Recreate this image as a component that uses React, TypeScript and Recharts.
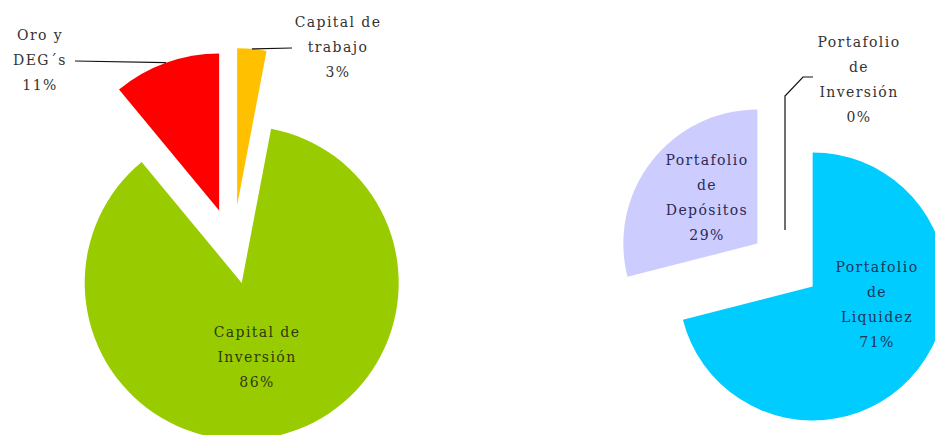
import { Cell, Pie, PieChart } from "recharts";

// Composición de las reservas (gráfico izquierdo)
const reservaNames = ["Capital de trabajo", "Capital de Inversión", "Oro y DEG´s"];
const reservaValues = [3, 86, 11];
const reservaLines = [["Capital de", "trabajo"], ["Capital de", "Inversión"], ["Oro y", "DEG´s"]];

// Capital de trabajo por portafolio (gráfico derecho)
const portafolioNames = ["Portafolio de Liquidez", "Portafolio de Depósitos", "Portafolio de Inversión"];
const portafolioValues = [71, 29, 0];
const portafolioLines = [["Portafolio", "de", "Liquidez"], ["Portafolio", "de", "Depósitos"], ["Portafolio", "de", "Inversión"]];

type Pt = [number, number];
type LabelCfg = { x: number; y: number; color: string; leader?: Pt[]; fromCenter?: boolean };
type PieLayout = {
  cx: number;
  cy: number;
  r: number;
  explode: number[];
  colors: string[];
  labels: LabelCfg[];
};

const LEFT: PieLayout = {
  cx: 233,
  cy: 249,
  r: 157,
  explode: [44, 35, 41],
  colors: ["#FFC000", "#99CC00", "#FF0000"],
  labels: [
    { x: 338, y: 22, color: "#333333", leader: [[292, 48]] },
    { x: 257, y: 332, color: "#2E3A0E" },
    { x: 40, y: 35, color: "#333333", leader: [[75, 61]] },
  ],
};

const RIGHT: PieLayout = {
  cx: 785,
  cy: 265,
  r: 134,
  explode: [35, 35, 35],
  colors: ["#00CCFF", "#CCCCFF", "#FFFFFF"],
  labels: [
    { x: 877, y: 267, color: "#1E3558" },
    { x: 707, y: 160, color: "#2A2A55" },
    { x: 859, y: 42, color: "#333333", leader: [[803, 77], [813, 77]], fromCenter: true },
  ],
};

const RADIAN = Math.PI / 180;
const FONT = "'DejaVu Serif', serif";
const LINE_H = 25;

function polar(cx: number, cy: number, r: number, angle: number): Pt {
  return [cx + r * Math.cos(-angle * RADIAN), cy + r * Math.sin(-angle * RADIAN)];
}

function renderLabel(p: any, cfg: LabelCfg, lines: string[], value: number) {
  const outer = polar(p.cx, p.cy, p.outerRadius, p.midAngle);
  let path = "";
  if (cfg.leader) {
    const pts: Pt[] = cfg.fromCenter ? [[p.cx, p.cy], outer, ...cfg.leader] : [outer, ...cfg.leader];
    path = pts.map((pt, k) => `${k === 0 ? "M" : "L"}${pt[0]},${pt[1]}`).join(" ");
  }
  const all = [...lines, `${value}%`];
  return (
    <g>
      {path && <path d={path} fill="none" stroke="#111111" strokeWidth={1.2} />}
      <text
        x={cfg.x}
        y={cfg.y + 5}
        textAnchor="middle"
        fill={cfg.color}
        fontFamily={FONT}
        fontSize={14}
        letterSpacing={1.4}
      >
        {all.map((t, k) => (
          <tspan key={k} x={cfg.x} dy={k === 0 ? 0 : LINE_H}>
            {t}
          </tspan>
        ))}
      </text>
    </g>
  );
}

function explodedPie(key: string, names: string[], values: number[], lines: string[][], layout: PieLayout) {
  const data = names.map((name, i) => ({ name, value: values[i] }));
  const total = values.reduce((a, b) => a + b, 0);
  let acc = 0;
  return data.map((d, i) => {
    const mid = 90 - ((acc + d.value / 2) / total) * 360;
    acc += d.value;
    const [cx, cy] = polar(layout.cx, layout.cy, layout.explode[i], mid);
    return (
      <Pie
        key={`${key}-${i}`}
        data={data}
        dataKey="value"
        nameKey="name"
        cx={cx}
        cy={cy}
        outerRadius={layout.r}
        startAngle={90}
        endAngle={-270}
        stroke="none"
        isAnimationActive={false}
        labelLine={false}
        label={(p: any) => (p.index === i ? renderLabel(p, layout.labels[i], lines[i], values[i]) : null)}
      >
        {data.map((_, j) => (
          <Cell key={j} fill={j === i ? layout.colors[i] : "none"} stroke="none" />
        ))}
      </Pie>
    );
  });
}

export default function App() {
  return (
    <div style={{ width: 935, height: 435, background: "#ffffff", overflow: "hidden" }}>
      <style>{"body{margin:0;background:#fff}"}</style>
      <PieChart width={935} height={435} margin={{ top: 0, right: 0, bottom: 0, left: 0 }}>
        {explodedPie("reserva", reservaNames, reservaValues, reservaLines, LEFT)}
        {explodedPie("portafolio", portafolioNames, portafolioValues, portafolioLines, RIGHT)}
      </PieChart>
    </div>
  );
}
